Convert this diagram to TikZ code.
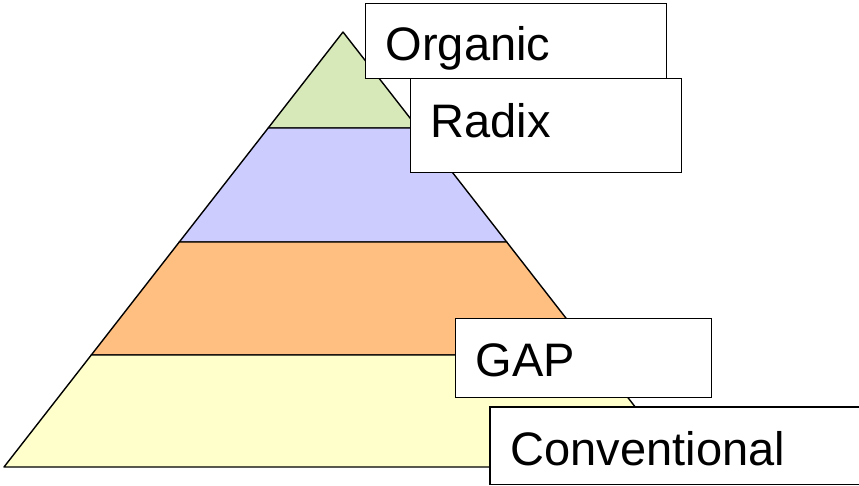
\documentclass[tikz,border=0pt]{standalone}
\usepackage{fontspec}
\setmainfont{Liberation Sans}
\usepackage{tikz}

\definecolor{lvlgreen}{HTML}{D7E9B9}
\definecolor{lvlblue}{HTML}{CCCCFF}
\definecolor{lvlorange}{HTML}{FFBF80}
\definecolor{lvlyellow}{HTML}{FFFFCC}

\begin{document}
\begin{tikzpicture}[x=1pt,y=-1pt,line width=1.4pt,
  band/.style={draw=black,line join=round},
  tag/.style={draw=black,fill=white,anchor=north west,inner sep=0pt,inner xsep=20pt,
    align=left,font=\fontsize{47}{56}\selectfont}]
\useasboundingbox (0,0) rectangle (859,486);
% pyramid levels
\coordinate (apex) at (343,32);
\coordinate (l1) at (268.2,128);
\coordinate (r1) at (417.8,128);
\coordinate (l2) at (179.3,242);
\coordinate (r2) at (506.7,242);
\coordinate (l3) at (91.3,355);
\coordinate (r3) at (594.7,355);
\coordinate (l4) at (4,467);
\coordinate (r4) at (682,467);
\draw[band,fill=lvlgreen] (apex) -- (l1) -- (r1) -- cycle;
\draw[band,fill=lvlblue] (l1) -- (l2) -- (r2) -- (r1) -- cycle;
\draw[band,fill=lvlorange] (l2) -- (l3) -- (r3) -- (r2) -- cycle;
\draw[band,fill=lvlyellow] (l3) -- (l4) -- (r4) -- (r3) -- cycle;
% labels
\node[tag,text width=261pt,text height=57pt,text depth=18pt] (organic) at (365,3) {Organic};
\node[tag,text width=231pt,text height=59pt,text depth=35pt] (radix) at (410,78) {Radix};
\node[tag,text width=216pt,text height=58pt,text depth=21pt] (gap) at (455,318) {GAP};
% last box runs off the page, so no right side
\node[tag,draw=none,text width=360pt,text height=58pt,text depth=18pt] (conv) at (490,407) {Conventional};
\draw (conv.north east) -- (conv.north west) -- (conv.south west) -- (conv.south east);
\end{tikzpicture}
\end{document}
